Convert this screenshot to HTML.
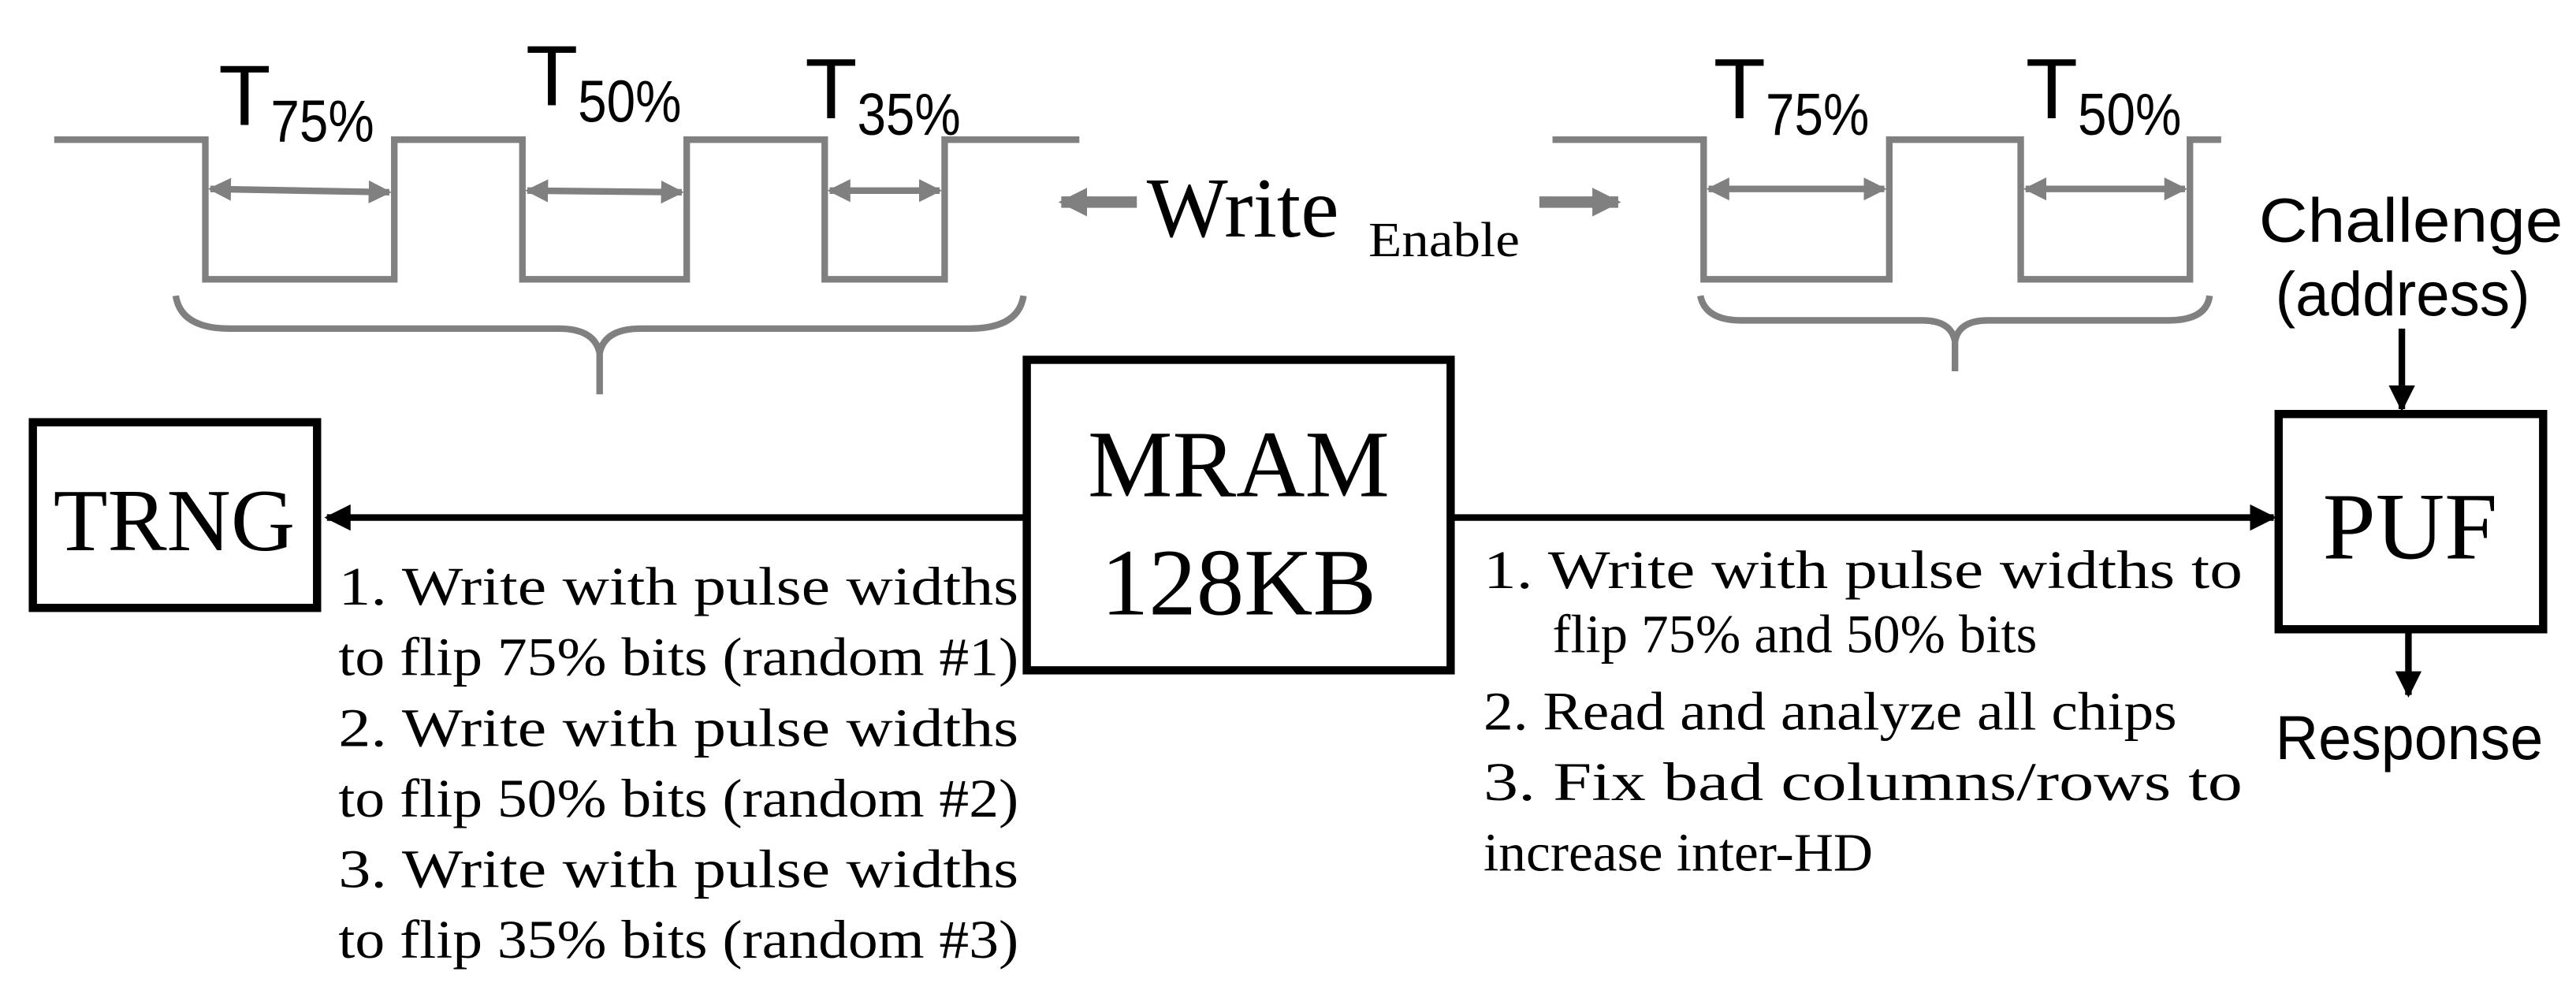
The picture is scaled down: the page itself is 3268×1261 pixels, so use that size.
<!DOCTYPE html>
<html><head><meta charset="utf-8"><style>html,body{margin:0;padding:0;background:#fff}svg{display:block}</style></head>
<body>
<svg width="3268" height="1261" viewBox="0 0 1568 605" xmlns="http://www.w3.org/2000/svg">
<defs>
<marker id="ga" viewBox="0 0 10 10" refX="9" refY="5" markerWidth="3.5" markerHeight="5" orient="auto-start-reverse"><path d="M0,0L10,5L0,10z" fill="#808080"/></marker>
<marker id="gb" viewBox="0 0 10 10" refX="9" refY="5" markerWidth="2.5" markerHeight="3" orient="auto-start-reverse"><path d="M0,0L10,5L0,10z" fill="#808080"/></marker>
<marker id="ba" viewBox="0 0 10 10" refX="9" refY="5" markerWidth="4" markerHeight="4" orient="auto-start-reverse"><path d="M0,0L10,5L0,10z" fill="#000"/></marker>
</defs>
<g fill="none" stroke="#808080" stroke-width="4">
<polyline points="33,85 125,85 125,170 240,170 240,85 318,85 318,170 418,170 418,85 502,85 502,170 575,170 575,85 657,85"/>
<polyline points="945,85 1037,85 1037,170 1150,170 1150,85 1230,85 1230,170 1333,170 1333,85 1352,85"/>
<path d="M107,180 Q110,200 140,200 L340,200 Q362,200 365,215 L365,240 M365,215 Q368,200 390,200 L590,200 Q620,200 623,180"/>
<path d="M1035,180 Q1038,195 1060,195 L1170,195 Q1188,195 1190,208 L1190,226 M1190,208 Q1192,195 1210,195 L1320,195 Q1343,195 1345,180"/>
</g>
<g stroke="#808080" stroke-width="4" marker-start="url(#ga)" marker-end="url(#ga)">
<line x1="128" y1="115" x2="237" y2="117"/>
<line x1="321" y1="116" x2="415" y2="117"/>
<line x1="505" y1="116" x2="572" y2="116"/>
<line x1="1040" y1="115" x2="1147" y2="115"/>
<line x1="1233" y1="115" x2="1330" y2="115"/>
</g>
<g stroke="#808080" stroke-width="7">
<line x1="692" y1="123" x2="646" y2="123" marker-end="url(#gb)"/>
<line x1="937" y1="123" x2="985" y2="123" marker-end="url(#gb)"/>
</g>
<g font-family="Liberation Sans, sans-serif" fill="#000">
<text x="133" y="76" font-size="52">T<tspan font-size="36" dy="10" textLength="63" lengthAdjust="spacingAndGlyphs">75%</tspan></text>
<text x="320" y="64" font-size="52">T<tspan font-size="36" dy="10" textLength="63" lengthAdjust="spacingAndGlyphs">50%</tspan></text>
<text x="490" y="72" font-size="52">T<tspan font-size="36" dy="10" textLength="63" lengthAdjust="spacingAndGlyphs">35%</tspan></text>
<text x="1043" y="72" font-size="52">T<tspan font-size="36" dy="10" textLength="63" lengthAdjust="spacingAndGlyphs">75%</tspan></text>
<text x="1233" y="72" font-size="52">T<tspan font-size="36" dy="10" textLength="63" lengthAdjust="spacingAndGlyphs">50%</tspan></text>
<text x="1375" y="147" font-size="38" textLength="185" lengthAdjust="spacingAndGlyphs">Challenge</text>
<text x="1385" y="192" font-size="38" textLength="155" lengthAdjust="spacingAndGlyphs">(address)</text>
<text x="1385" y="462" font-size="38" textLength="163" lengthAdjust="spacingAndGlyphs">Response</text>
</g>
<g font-family="Liberation Serif, serif" fill="#000">
<text x="698" y="144" font-size="52" textLength="117" lengthAdjust="spacingAndGlyphs">Write</text>
<text x="833" y="156" font-size="30" textLength="92" lengthAdjust="spacingAndGlyphs">Enable</text>
<text x="106" y="335" font-size="54" text-anchor="middle">TRNG</text>
<text x="754" y="302" font-size="58" text-anchor="middle">MRAM</text>
<text x="754" y="374" font-size="58" text-anchor="middle">128KB</text>
<text x="1467" y="340" font-size="58" text-anchor="middle">PUF</text>
</g>
<g fill="none" stroke="#000" stroke-width="5">
<rect x="20" y="257" width="173" height="113"/>
<rect x="625" y="219" width="258" height="189"/>
<rect x="1387" y="252" width="161" height="131"/>
</g>
<g stroke="#000" stroke-width="4">
<line x1="623" y1="315" x2="199" y2="315" marker-end="url(#ba)"/>
<line x1="885" y1="315" x2="1384" y2="315" marker-end="url(#ba)"/>
<line x1="1462" y1="200" x2="1462" y2="249" marker-end="url(#ba)"/>
<line x1="1466" y1="385" x2="1466" y2="423" marker-end="url(#ba)"/>
</g>
<g font-family="Liberation Serif, serif" font-size="33" fill="#000">
<text x="206" y="368" textLength="414" lengthAdjust="spacingAndGlyphs">1.  Write  with  pulse  widths</text>
<text x="206" y="411" textLength="414" lengthAdjust="spacingAndGlyphs">to flip 75% bits (random #1)</text>
<text x="206" y="454" textLength="414" lengthAdjust="spacingAndGlyphs">2.  Write  with  pulse  widths</text>
<text x="206" y="497" textLength="414" lengthAdjust="spacingAndGlyphs">to flip 50% bits (random #2)</text>
<text x="206" y="540" textLength="414" lengthAdjust="spacingAndGlyphs">3.  Write  with  pulse  widths</text>
<text x="206" y="583" textLength="414" lengthAdjust="spacingAndGlyphs">to flip 35% bits (random #3)</text>
<text x="903" y="358" textLength="462" lengthAdjust="spacingAndGlyphs">1.  Write  with  pulse  widths  to</text>
<text x="945" y="397" textLength="295" lengthAdjust="spacingAndGlyphs">flip 75% and 50% bits</text>
<text x="903" y="444" textLength="422" lengthAdjust="spacingAndGlyphs">2. Read and analyze all chips</text>
<text x="903" y="487" textLength="462" lengthAdjust="spacingAndGlyphs">3.   Fix   bad   columns/rows   to</text>
<text x="903" y="530" textLength="237" lengthAdjust="spacingAndGlyphs">increase inter-HD</text>
</g>
</svg>
</body></html>
